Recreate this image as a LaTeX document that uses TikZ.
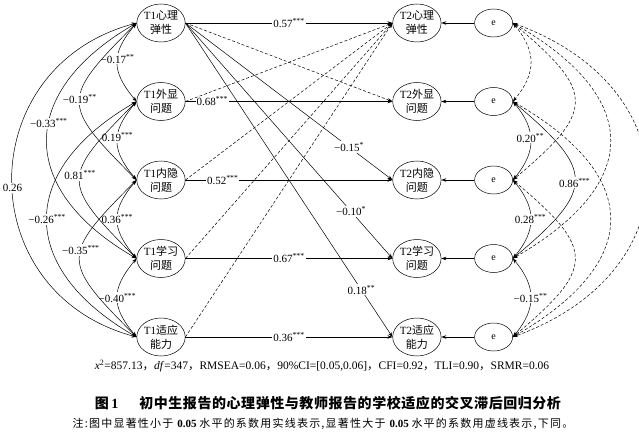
\documentclass[tikz,border=0pt]{standalone}
\usepackage{fontspec}
\setmainfont{Liberation Serif}
\newfontfamily\cjk{Noto Sans CJK SC}
\newfontfamily\cjknote[LetterSpace=11]{Noto Sans CJK SC}
\newfontfamily\cjkcap[LetterSpace=4]{Noto Sans CJK SC}
\usetikzlibrary{shapes.geometric,arrows.meta,positioning}

\begin{document}
\begin{tikzpicture}[
    x=1pt, y=-1pt,
    var/.style={ellipse, draw, line width=0.5pt, minimum width=48pt,
                minimum height=38pt, inner sep=0pt, align=center,
                font=\fontsize{11}{14}\selectfont},
    err/.style={ellipse, draw, line width=0.5pt, minimum width=38pt,
                minimum height=28pt, inner sep=0pt, font=\fontsize{10}{12}\selectfont},
    reg/.style={-{Stealth[length=5pt,width=3.5pt]}, line width=0.5pt},
    cov/.style={{Stealth[length=5pt,width=3.5pt]}-{Stealth[length=5pt,width=3.5pt]},
                line width=0.5pt},
    ns/.style={dash pattern=on 3pt off 2pt},
    coef/.style={fill=white, inner sep=1pt, font=\fontsize{11}{13}\selectfont},
]
    \useasboundingbox (0,0) rectangle (639,441);

    \node[var] (t1res) at (161,23) {T1{\cjk 心理}\\{\cjk 弹性}};
    \node[var, below=40pt of t1res] (t1ext) {T1{\cjk 外显}\\{\cjk 问题}};
    \node[var, below=40pt of t1ext] (t1int) {T1{\cjk 内隐}\\{\cjk 问题}};
    \node[var, below=40pt of t1int] (t1lrn) {T1{\cjk 学习}\\{\cjk 问题}};
    \node[var, below=40pt of t1lrn] (t1adp) {T1{\cjk 适应}\\{\cjk 能力}};

    \node[var, right=207pt of t1res] (t2res) {T2{\cjk 心理}\\{\cjk 弹性}};
    \node[var, right=207pt of t1ext] (t2ext) {T2{\cjk 外显}\\{\cjk 问题}};
    \node[var, right=207pt of t1int] (t2int) {T2{\cjk 内隐}\\{\cjk 问题}};
    \node[var, right=207pt of t1lrn] (t2lrn) {T2{\cjk 学习}\\{\cjk 问题}};
    \node[var, right=207pt of t1adp] (t2adp) {T2{\cjk 适应}\\{\cjk 能力}};

    \node[err, right=33pt of t2res] (e1) {e};
    \node[err, right=33pt of t2ext] (e2) {e};
    \node[err, right=33pt of t2int] (e3) {e};
    \node[err, right=33pt of t2lrn] (e4) {e};
    \node[err, right=33pt of t2adp] (e5) {e};

    \draw[reg] (t1res.east) -- node[coef] {0.57\textsuperscript{***}} (t2res.west);
    \draw[reg] (t1ext.east) -- node[coef, pos=0.13] {0.68\textsuperscript{***}} (t2ext.west);
    \draw[reg] (t1int.east) -- node[coef, pos=0.18] {0.52\textsuperscript{***}} (t2int.west);
    \draw[reg] (t1lrn.east) -- node[coef] {0.67\textsuperscript{***}} (t2lrn.west);
    \draw[reg] (t1adp.east) -- node[coef] {0.36\textsuperscript{***}} (t2adp.west);

    \draw[reg, ns] (t1res.east) -- (t2ext.west);
    \draw[reg] (t1res.east) -- node[coef, pos=0.79] {−0.15\textsuperscript{*}} (t2int.west);
    \draw[reg] (t1res.east) -- node[coef, pos=0.8] {−0.10\textsuperscript{*}} (t2lrn.west);
    \draw[reg] (t1res.east) -- node[coef, pos=0.85] {0.18\textsuperscript{**}} (t2adp.west);
    \draw[reg, ns] (t1ext.east) -- (t2res.west);
    \draw[reg, ns] (t1int.east) -- (t2res.west);
    \draw[reg, ns] (t1lrn.east) -- (t2res.west);
    \draw[reg, ns] (t1adp.east) -- (t2res.west);

    \draw[reg] (e1) -- (t2res);
    \draw[reg] (e2) -- (t2ext);
    \draw[reg] (e3) -- (t2int);
    \draw[reg] (e4) -- (t2lrn);
    \draw[reg] (e5) -- (t2adp);

    \draw[cov] (t1res.west) to[bend right=40, looseness=1.3]
        node[coef, pos=0.45] {−0.17\textsuperscript{**}} (t1ext.west);
    \draw[cov] (t1ext.west) to[bend right=40, looseness=1.3]
        node[coef, pos=0.45] {0.19\textsuperscript{***}} (t1int.west);
    \draw[cov] (t1int.west) to[bend right=40, looseness=1.3]
        node[coef] {0.36\textsuperscript{***}} (t1lrn.west);
    \draw[cov] (t1lrn.west) to[bend right=40, looseness=1.3]
        node[coef] {−0.40\textsuperscript{***}} (t1adp.west);
    \draw[cov] (t1res.west) to[bend right=45, looseness=1.75]
        node[coef, pos=0.48] {−0.19\textsuperscript{**}} (t1int.west);
    \draw[cov] (t1ext.west) to[bend right=45, looseness=1.75]
        node[coef, pos=0.46] {0.81\textsuperscript{***}} (t1lrn.west);
    \draw[cov] (t1int.west) to[bend right=45, looseness=1.75]
        node[coef, pos=0.43] {−0.35\textsuperscript{***}} (t1adp.west);
    \draw[cov] (t1res.west) to[bend right=60, looseness=1.5]
        node[coef, pos=0.43] {−0.33\textsuperscript{***}} (t1lrn.west);
    \draw[cov] (t1ext.west) to[bend right=60, looseness=1.5]
        node[coef] {−0.26\textsuperscript{***}} (t1adp.west);
    \draw[cov] (t1res.west) to[bend right=75, looseness=1.4]
        node[coef, pos=0.52] {0.26} (t1adp.west);

    \draw[cov, ns] (e1.east) to[bend left=40, looseness=1.2] (e2.east);
    \draw[cov] (e2.east) to[bend left=40, looseness=1.2]
        node[coef, pos=0.46] {0.20\textsuperscript{**}} (e3.east);
    \draw[cov] (e3.east) to[bend left=40, looseness=1.2]
        node[coef] {0.28\textsuperscript{***}} (e4.east);
    \draw[cov] (e4.east) to[bend left=40, looseness=1.2]
        node[coef] {−0.15\textsuperscript{**}} (e5.east);
    \draw[cov, ns] (e1.east) to[bend left=50, looseness=1.76] (e3.east);
    \draw[cov] (e2.east) to[bend left=50, looseness=1.76]
        node[coef, pos=0.52] {0.86\textsuperscript{***}} (e4.east);
    \draw[cov, ns] (e3.east) to[bend left=50, looseness=1.76] (e5.east);
    \draw[cov, ns] (e1.east) to[bend left=60, looseness=1.63] (e4.east);
    \draw[cov, ns] (e2.east) to[bend left=60, looseness=1.63] (e5.east);
    \draw[cov, ns] (e1.east) to[bend left=70, looseness=1.55] (e5.east);

    \node[font=\fontsize{11.5}{13}\selectfont] (fit) at (322,366)
        {\textit{x}\textsuperscript{2}=857.13{\cjk ，}\textit{df}=347{\cjk ，}RMSEA=0.06{\cjk ，}90\%CI=[0.05,0.06]{\cjk ，}CFI=0.92{\cjk ，}TLI=0.90{\cjk ，}SRMR=0.06};
    \node[font=\fontsize{14}{16}\selectfont] (caption) at (328,403)
        {{\cjk\bfseries 图}\,\textbf{1}\hspace{1.5em}{\cjkcap\bfseries 初中生报告的心理弹性与教师报告的学校适应的交叉滞后回归分析}};
    \node[font=\fontsize{11}{13}\selectfont] (note) at (323,424)
        {{\cjknote 注:图中显著性小于} \textbf{0.05} {\cjknote 水平的系数用实线表示,显著性大于} \textbf{0.05} {\cjknote 水平的系数用虚线表示,下同。}};
\end{tikzpicture}
\end{document}
